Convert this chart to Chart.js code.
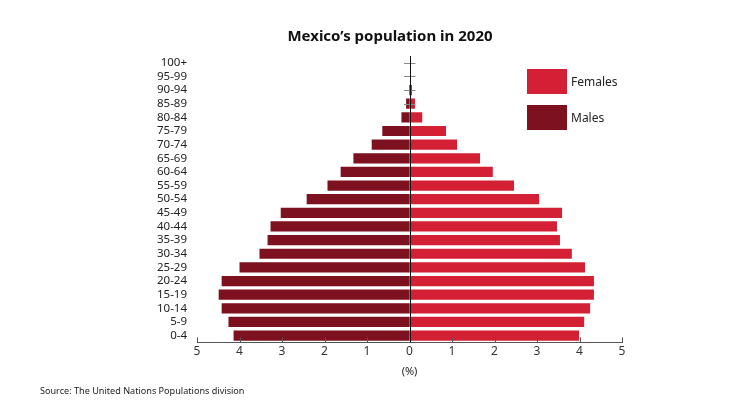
<!DOCTYPE html>
<html>
<head>
<meta charset="utf-8">
<script src="https://cdn.jsdelivr.net/npm/chart.js@4"></script>
<style>
  body { margin: 0; background: #fff; font-family: "Noto Sans", sans-serif; }
  #wrap { position: relative; width: 742px; height: 418px; }
  #title { position: absolute; top: 25px; left: 0; width: 780px; text-align: center; font-size: 15px; font-weight: bold; color: #111; }
  #legend { position: absolute; left: 527px; top: 69px; }
  .item { display: flex; align-items: center; height: 25px; margin-bottom: 11px; font-size: 12px; color: #222; }
  .box { width: 40px; height: 25px; margin-right: 4px; }
  #source { position: absolute; left: 40px; top: 384px; font-size: 9.1px; color: #222; }
</style>
</head>
<body>
<div id="wrap">
  <canvas id="chart" width="742" height="418"></canvas>
  <div id="title">Mexico’s population in 2020</div>
  <div id="legend"></div>
  <div id="source">Source: The United Nations Populations division</div>
</div>
<script>
const ageGroups = ['100+', '95-99', '90-94', '85-89', '80-84', '75-79', '70-74', '65-69', '60-64', '55-59',
  '50-54', '45-49', '40-44', '35-39', '30-34', '25-29', '20-24', '15-19', '10-14', '5-9', '0-4'];
const males = [0, 0, 0.01, 0.08, 0.19, 0.64, 0.89, 1.32, 1.62, 1.93,
  2.42, 3.03, 3.27, 3.34, 3.53, 4.0, 4.42, 4.49, 4.42, 4.26, 4.14];
const females = [0, 0, 0.06, 0.13, 0.30, 0.86, 1.12, 1.66, 1.96, 2.46,
  3.05, 3.59, 3.47, 3.54, 3.82, 4.13, 4.34, 4.34, 4.25, 4.11, 3.99];
// small grey whiskers near the axis for the oldest groups
const whiskerRows = ['100+', '95-99', '90-94', '85-89'];
const xTicks = [-5, -4, -3, -2, -1, 0, 1, 2, 3, 4, 5];

const femaleColor = '#d42035';
const maleColor = '#7d111f';

const legend = document.getElementById('legend');
[['Females', femaleColor], ['Males', maleColor]].forEach(([name, color]) => {
  legend.innerHTML += `<div class="item"><div class="box" style="background:${color}"></div>${name}</div>`;
});

const axisTicks = {
  id: 'axisTicks',
  afterDraw(chart) {
    const { ctx, scales: { x, y }, chartArea } = chart;
    ctx.save();
    ctx.strokeStyle = '#555';
    ctx.lineWidth = 1;
    xTicks.forEach(v => {
      const px = Math.round(x.getPixelForValue(v)) + 0.5;
      ctx.beginPath();
      ctx.moveTo(px, chartArea.bottom);
      ctx.lineTo(px, chartArea.bottom - 5);
      ctx.stroke();
    });
    ctx.strokeStyle = '#888';
    whiskerRows.forEach(r => {
      const py = Math.round(y.getPixelForValue(ageGroups.indexOf(r))) + 0.5;
      ctx.beginPath();
      ctx.moveTo(x.getPixelForValue(-0.13), py);
      ctx.lineTo(x.getPixelForValue(0.14), py);
      ctx.stroke();
    });
    const zx = Math.round(x.getPixelForValue(0)) + 0.5;
    ctx.strokeStyle = '#111';
    ctx.beginPath();
    ctx.moveTo(zx, chartArea.top);
    ctx.lineTo(zx, chartArea.bottom);
    ctx.stroke();
    ctx.restore();
  }
};

new Chart(document.getElementById('chart'), {
  type: 'bar',
  data: {
    labels: ageGroups,
    datasets: [
      { label: 'Males', data: males.map(v => -v), backgroundColor: maleColor, barPercentage: 0.75, categoryPercentage: 1 },
      { label: 'Females', data: females, backgroundColor: femaleColor, barPercentage: 0.75, categoryPercentage: 1 }
    ]
  },
  options: {
    indexAxis: 'y',
    responsive: false,
    animation: false,
    layout: { padding: { top: 56, left: 147, right: 120, bottom: 36 } },
    plugins: { legend: { display: false }, tooltip: { enabled: false } },
    scales: {
      x: {
        stacked: true,
        min: -5,
        max: 5,
        afterBuildTicks: s => { s.ticks = xTicks.map(v => ({ value: v })); },
        grid: { display: false, drawTicks: false },
        border: { display: true, color: '#555', width: 1 },
        ticks: {
          padding: 2,
          color: '#333',
          font: { family: 'Noto Sans', size: 12 },
          callback: v => Math.abs(v)
        },
        title: { display: true, text: '(%)', color: '#222', font: { family: 'Noto Sans', size: 11 }, padding: { top: 4 } }
      },
      y: {
        stacked: true,
        grid: { display: false, drawTicks: false },
        border: { display: false },
        ticks: { color: '#222', padding: 10, autoSkip: false, font: { family: 'Noto Sans', size: 11.5 } }
      }
    }
  },
  plugins: [axisTicks]
});
</script>
</body>
</html>
